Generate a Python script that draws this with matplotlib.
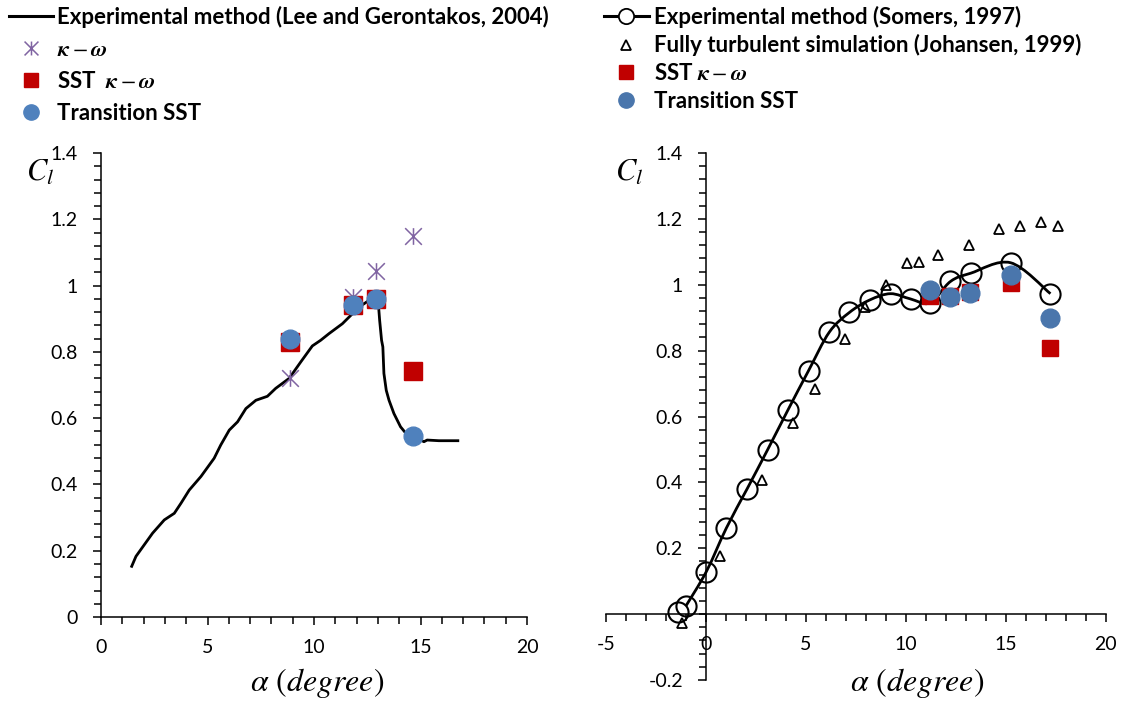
import matplotlib
matplotlib.use("Agg")
import numpy as np
import matplotlib.pyplot as plt
from matplotlib.lines import Line2D
from matplotlib.path import Path
from matplotlib.patches import PathPatch
from matplotlib.ticker import MultipleLocator
from matplotlib.font_manager import FontProperties

# ---------------- left panel data (Lee and Gerontakos, 2004) ----------------
lee_alpha = [1.44, 1.64, 2.03, 2.42, 2.97, 3.44, 3.75, 4.14, 4.69, 5.31, 5.62,
             6.02, 6.41, 6.80, 7.27, 7.81, 8.20, 8.83, 9.38, 9.92, 10.31, 10.70,
             11.33, 11.80, 12.11, 12.50, 12.89, 13.02, 13.08, 13.17, 13.23, 13.28,
             13.39, 13.52, 13.75, 14.06, 14.38, 14.84, 15.16, 15.31, 15.86, 16.75]
lee_cl = [0.153, 0.183, 0.218, 0.253, 0.293, 0.313, 0.343, 0.383, 0.424, 0.479, 0.519,
          0.564, 0.589, 0.629, 0.654, 0.666, 0.690, 0.720, 0.770, 0.818, 0.835, 0.855,
          0.885, 0.915, 0.935, 0.952, 0.958, 0.945, 0.895, 0.835, 0.815, 0.735,
          0.684, 0.654, 0.614, 0.574, 0.549, 0.539, 0.529, 0.534, 0.532, 0.532]

left_sim_alpha = [8.87, 11.83, 12.92, 14.66]
left_kw_cl = [0.72, 0.967, 1.043, 1.151]
left_sst_cl = [0.83, 0.94, 0.96, 0.742]
left_trans_cl = [0.84, 0.942, 0.96, 0.547]

# ---------------- right panel data ----------------
somers_alpha = [-1.41, -1.03, 0.0, 1.01, 2.05, 3.07, 4.10, 5.12, 6.16, 7.17, 8.19,
                9.23, 10.23, 11.20, 12.23, 13.24, 15.24, 17.24]
somers_cl = [0.008, 0.024, 0.129, 0.262, 0.381, 0.499, 0.621, 0.739, 0.856, 0.916, 0.954,
             0.973, 0.957, 0.945, 1.010, 1.035, 1.067, 0.973]

johansen_alpha = [-1.21, 0.67, 2.80, 4.35, 5.44, 6.94, 7.94, 8.98, 10.03, 10.64, 11.61,
                  13.14, 14.66, 15.73, 16.78, 17.64]
johansen_cl = [-0.027, 0.177, 0.408, 0.581, 0.683, 0.834, 0.934, 0.998, 1.066, 1.070, 1.091,
               1.122, 1.170, 1.180, 1.190, 1.180]

right_sim_alpha = [11.20, 12.23, 13.23, 15.24, 17.22]
right_sst_cl = [0.967, 0.965, 0.979, 1.005, 0.808]
right_trans_cl = [0.983, 0.964, 0.974, 1.030, 0.900]

# ---------------- ticks ----------------
left_xticks = [0, 5, 10, 15, 20]
left_xlabels = ['0', '5', '10', '15', '20']
left_yticks = [0, 0.2, 0.4, 0.6, 0.8, 1.0, 1.2, 1.4]
left_ylabels = ['0', '0.2', '0.4', '0.6', '0.8', '1', '1.2', '1.4']
right_xticks = [-5, 0, 5, 10, 15, 20]
right_xlabels = ['-5', '0', '5', '10', '15', '20']
right_yticks = [-0.2, 0.2, 0.4, 0.6, 0.8, 1.0, 1.2, 1.4]
right_ylabels = ['-0.2', '0.2', '0.4', '0.6', '0.8', '1', '1.2', '1.4']

PURPLE = '#8064A2'
RED = '#C00000'
BLUE_L = '#4F81BD'
BLUE_R = '#4A76AC'

plt.rcParams['font.family'] = ['Lato', 'DejaVu Sans']
plt.rcParams['mathtext.fontset'] = 'custom'
plt.rcParams['mathtext.it'] = 'STIXGeneral:italic:bold'
plt.rcParams['mathtext.rm'] = 'STIXGeneral'

# star marker like Excel (vertical bar + X)
star = Path([(0, -1), (0, 1), (-1, -1), (1, 1), (-1, 1), (1, -1)],
            [Path.MOVETO, Path.LINETO] * 3)


def style_axis(ax, xt, xl, yt, yl):
    ax.set_xticks(xt)
    ax.set_xticklabels(xl)
    ax.set_yticks(yt)
    ax.set_yticklabels(yl)
    ax.xaxis.set_minor_locator(MultipleLocator(1))
    ax.yaxis.set_minor_locator(MultipleLocator(0.04))
    ax.spines['top'].set_visible(False)
    ax.spines['right'].set_visible(False)
    for s in ('left', 'bottom'):
        ax.spines[s].set_linewidth(1.1)
    ax.tick_params(which='major', direction='out', length=5.8, width=1.1, labelsize=14)
    ax.tick_params(which='minor', direction='out', length=5.2, width=1.1)
    ax.tick_params(axis='x', which='major', pad=10)
    ax.tick_params(axis='y', which='major', pad=11)


def smooth_path(xs, ys):
    # Excel-style smoothed line: cubic Bezier through the points
    p = np.column_stack([xs, ys])
    verts = [p[0]]
    codes = [Path.MOVETO]
    n = len(p)
    for i in range(n - 1):
        p0 = p[max(i - 1, 0)]
        p3 = p[min(i + 2, n - 1)]
        c1 = p[i] + (p[i + 1] - p0) / 6.0
        c2 = p[i + 1] - (p3 - p[i]) / 6.0
        verts += [c1, c2, p[i + 1]]
        codes += [Path.CURVE4] * 3
    return Path(verts, codes)


fig = plt.figure(figsize=(11.25, 7.03), dpi=100)
ax1 = fig.add_axes([0.0898, 0.1223, 0.3787, 0.6600])
ax2 = fig.add_axes([0.5391, 0.0327, 0.4436, 0.7496])

# ---- left panel ----
ax1.plot(lee_alpha, lee_cl, color='black', lw=2.0, zorder=2)
ax1.plot(left_sim_alpha, left_kw_cl, ls='none', marker=star, ms=12, mew=1.1,
         color=PURPLE, zorder=3)
ax1.plot(left_sim_alpha, left_sst_cl, ls='none', marker='s', ms=12.5,
         color=RED, zorder=4)
ax1.plot(left_sim_alpha, left_trans_cl, ls='none', marker='o', ms=13.5,
         color=BLUE_L, zorder=5)
ax1.set_xlim(0, 20)
ax1.set_ylim(0, 1.4)
style_axis(ax1, left_xticks, left_xlabels, left_yticks, left_ylabels)

# ---- right panel ----
ax2.add_patch(PathPatch(smooth_path(somers_alpha[1:], somers_cl[1:]), fill=False,
                        lw=2.0, edgecolor='black', zorder=2))
ax2.plot(somers_alpha, somers_cl, ls='none', marker='o', ms=14.5, mfc='none',
         mec='black', mew=1.5, zorder=3)
ax2.plot(johansen_alpha, johansen_cl, ls='none', marker='^', ms=7.5, mfc='none',
         mec='black', mew=1.3, zorder=3)
ax2.plot(right_sim_alpha, right_sst_cl, ls='none', marker='s', ms=12,
         color=RED, zorder=4)
ax2.plot(right_sim_alpha, right_trans_cl, ls='none', marker='o', ms=13.5,
         color=BLUE_R, zorder=5)
ax2.set_xlim(-5, 20)
ax2.set_ylim(-0.2, 1.4)
ax2.spines['left'].set_position(('data', 0))
ax2.spines['bottom'].set_position(('data', 0))
style_axis(ax2, right_xticks, right_xlabels, right_yticks, right_ylabels)

# axis titles
for x in (0.282, 0.815):
    fig.text(x, 0.028, r'$\alpha\ (degree)$', ha='center', va='center',
             fontsize=23, math_fontfamily='stix')
fig.text(0.036, 0.755, r'$C_l$', ha='center', va='center', fontsize=22,
         math_fontfamily='stix')
fig.text(0.559, 0.755, r'$C_l$', ha='center', va='center', fontsize=22,
         math_fontfamily='stix')

# legends
lp = FontProperties(family='Lato', weight='bold', size=16)
left_handles = [
    Line2D([], [], color='black', lw=2.2),
    Line2D([], [], ls='none', marker=star, ms=10, mew=1.1, color=PURPLE),
    Line2D([], [], ls='none', marker='s', ms=10.5, color=RED),
    Line2D([], [], ls='none', marker='o', ms=11, color=BLUE_L),
]
left_labels = ['Experimental method (Lee and Gerontakos, 2004)', r'$\kappa - \omega$',
               r'SST  $\kappa - \omega$', 'Transition SST']
fig.legend(left_handles, left_labels, loc='upper left', bbox_to_anchor=(0.008, 0.992),
           frameon=False, prop=lp, borderpad=0, borderaxespad=0, handlelength=2.0,
           handletextpad=0.15, labelspacing=0.5)

right_handles = [
    Line2D([], [], color='black', lw=2.2, marker='o', ms=11, mfc='white', mec='black', mew=1.3),
    Line2D([], [], ls='none', marker='^', ms=6.5, mfc='none', mec='black', mew=1.3),
    Line2D([], [], ls='none', marker='s', ms=10.5, color=RED),
    Line2D([], [], ls='none', marker='o', ms=11, color=BLUE_R),
]
right_labels = ['Experimental method (Somers, 1997)',
                'Fully turbulent simulation (Johansen, 1999)',
                r'SST $\kappa - \omega$', 'Transition SST']
fig.legend(right_handles, right_labels, loc='upper left', bbox_to_anchor=(0.537, 0.992),
           frameon=False, prop=lp, borderpad=0, borderaxespad=0, handlelength=2.0,
           handletextpad=0.25, labelspacing=0.3)

fig.savefig('out.png', dpi=100)
